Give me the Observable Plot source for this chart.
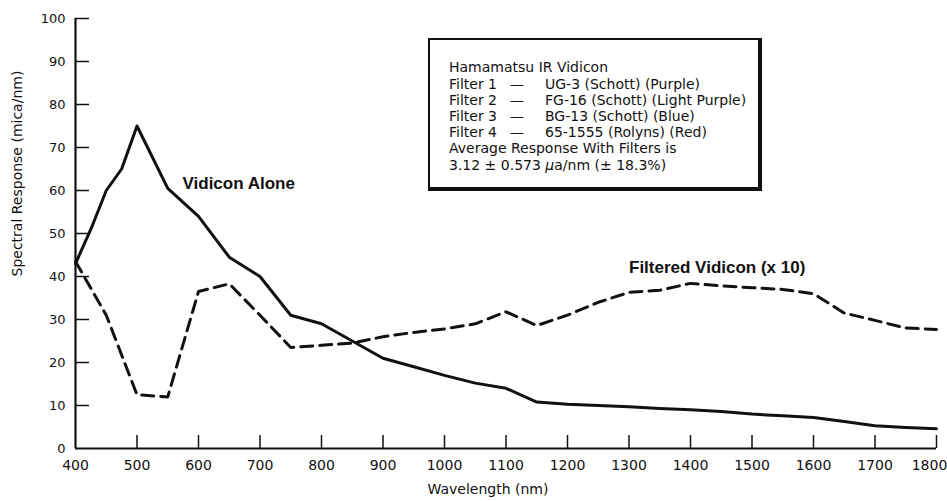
<!DOCTYPE html>
<html><head><meta charset="utf-8">
<script src="https://cdn.jsdelivr.net/npm/d3@7"></script>
<script src="https://cdn.jsdelivr.net/npm/@observablehq/plot@0.6"></script>
<style>
html,body{margin:0;padding:0;background:#fff;}
#wrap{position:relative;width:947px;height:501px;}
#legend{position:absolute;left:428px;top:38px;width:328px;height:147px;border-style:solid;border-color:#111;border-width:2px 4px 4px 2px;font-family:"DejaVu Sans";font-size:14px;color:#111;background:#fff;}
.l{position:absolute;white-space:nowrap;line-height:14px;}
</style></head>
<body>
<div id="wrap"></div>
<script>
// Vidicon alone (solid)
const solidX = [400,425,450,475,500,550,600,650,700,750,800,850,900,950,1000,1050,1100,1150,1200,1250,1300,1350,1400,1450,1500,1550,1600,1650,1700,1750,1800];
const solidY = [43,51,60,65,75,60.5,54,44.5,40,31,29,25,21,19,17,15.2,14,10.8,10.3,10,9.7,9.3,9,8.6,8,7.6,7.2,6.3,5.3,4.9,4.6];
// Filtered vidicon x10 (dashed)
const dashX = [400,450,500,550,600,650,700,750,800,850,900,950,1000,1050,1100,1150,1200,1250,1300,1350,1400,1450,1500,1550,1600,1650,1700,1750,1800];
const dashY = [43.5,31,12.5,12,36.5,38.3,31,23.5,24,24.5,26,27,27.8,29,31.8,28.6,31,34,36.3,36.8,38.4,37.8,37.4,37,36,31.5,29.8,28,27.7];

const xTickLabels = [400,500,600,700,800,900,1000,1100,1200,1300,1400,1500,1600,1700];
const xLastLabel = [1800];
const xTicks = [500,600,700,800,900,1000,1100,1200,1300,1400,1500,1600,1700,1800];
const yTickLabels = [0,10,20,30,40,50,60,70,80,90,100];
const yTicks = [10,20,30,40,50,60,70,80,90,100];

const curveLabelText = ["Vidicon Alone", "Filtered Vidicon (x 10)"];
const curveLabelX = [574, 1300];
const curveLabelY = [61.6, 42];

const legendTitle = "Hamamatsu IR Vidicon";
const filterNames = ["Filter 1","Filter 2","Filter 3","Filter 4"];
const filterDescs = ["UG-3 (Schott) (Purple)","FG-16 (Schott) (Light Purple)","BG-13 (Schott) (Blue)","65-1555 (Rolyns) (Red)"];
const avgLines = ["Average Response With Filters is", "3.12 ± 0.573 <i>μ</i>a/nm (± 18.3%)"];

const solid = solidX.map((x,i)=>({x, y: solidY[i]}));
const dashed = dashX.map((x,i)=>({x, y: dashY[i]}));
const curveLabels = curveLabelText.map((t,i)=>({t, x: curveLabelX[i], y: curveLabelY[i]}));

const plot = Plot.plot({
  width: 947, height: 501,
  marginLeft: 75, marginRight: 11, marginTop: 18, marginBottom: 53,
  x: {domain: [400, 1800]},
  y: {domain: [0, 100]},
  style: {fontFamily: "DejaVu Sans", color: "#111", background: "#fff"},
  marks: [
    Plot.tickY(yTicks, {y: d=>d, insetRight: 847, strokeWidth: 1.5, stroke: "#111"}),
    Plot.tickX(xTicks, {x: d=>d, insetTop: 417, strokeWidth: 1.5, stroke: "#111"}),
    Plot.ruleX([400], {strokeWidth: 2.2, stroke: "#111"}),
    Plot.ruleY([0], {strokeWidth: 2.2, stroke: "#111"}),
    Plot.axisY(yTickLabels, {tickSize: 0, tickPadding: 10, fontSize: 13, label: null, tickFormat: "d"}),
    Plot.axisX(xTickLabels, {tickSize: 0, tickPadding: 12, fontSize: 14, label: null, tickFormat: "d"}),
    Plot.axisX(xLastLabel, {tickSize: 0, tickPadding: 12, fontSize: 14, label: null, tickFormat: "d", dx: -7}),
    Plot.line(solid, {x: "x", y: "y", stroke: "#111", strokeWidth: 3, strokeLinejoin: "round"}),
    Plot.line(dashed, {x: "x", y: "y", stroke: "#111", strokeWidth: 3, strokeDasharray: "12,7", strokeLinejoin: "round"}),
    Plot.text(curveLabels, {x: "x", y: "y", text: "t", textAnchor: "start", fontWeight: "bold", fontSize: 17, fontFamily: "Liberation Sans", fill: "#111"}),
    Plot.text(["Spectral Response (mica/nm)"], {text: d=>d, frameAnchor: "left", rotate: -90, dx: -58, dy: 43, fontSize: 14, fill: "#111"}),
    Plot.text(["Wavelength (nm)"], {text: d=>d, frameAnchor: "bottom", dx: -18, dy: 45, fontSize: 14, fill: "#111"})
  ]
});
const wrap = document.getElementById("wrap");
wrap.appendChild(plot);

const lg = document.createElement("div");
lg.id = "legend";
let html = `<div class="l" style="left:19px;top:20px">${legendTitle}</div>`;
const tops = [37,53,69,85];
filterNames.forEach((n,i)=>{
  html += `<div class="l" style="left:19px;top:${tops[i]}px">${n}</div>`;
  html += `<div class="l" style="left:80px;top:${tops[i]}px">—</div>`;
  html += `<div class="l" style="left:115px;top:${tops[i]}px">${filterDescs[i]}</div>`;
});
html += `<div class="l" style="left:19px;top:101px">${avgLines[0]}</div>`;
html += `<div class="l" style="left:19px;top:118px">${avgLines[1]}</div>`;
lg.innerHTML = html;
wrap.appendChild(lg);
</script>
</body></html>
